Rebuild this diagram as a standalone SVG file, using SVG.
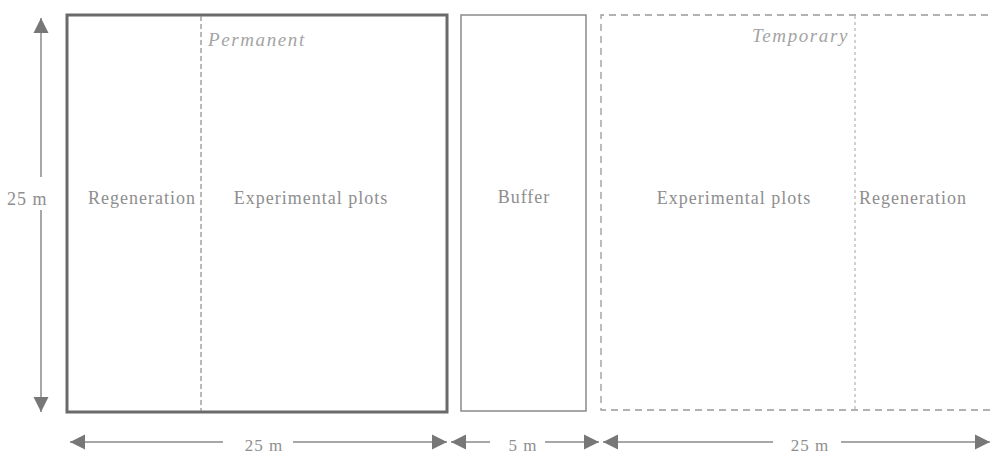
<svg xmlns="http://www.w3.org/2000/svg" width="992" height="457" viewBox="0 0 992 457">
<defs>
<style>
text{font-family:"Liberation Serif","Times New Roman",serif;font-size:18px;letter-spacing:1px;fill:#8e8e8e}
.it{font-style:italic;font-size:19px;letter-spacing:1.6px;fill:#a4a4a4}
.bl{font-size:17px}
.dim{stroke:#8a8a8a;stroke-width:1.5;fill:none}
.head{fill:#777}
</style>
<marker id="ah" viewBox="0 0 10 10" refX="10" refY="5" markerWidth="15" markerHeight="16" markerUnits="userSpaceOnUse" orient="auto-start-reverse">
<path d="M0,0 L10,5 L0,10 Z" class="head"/>
</marker>
</defs>
<rect width="992" height="457" fill="#fff"/>
<g id="permanent">
<rect x="67" y="15" width="380" height="397" fill="none" stroke="#6a6a6a" stroke-width="3"/>
<line x1="201" y1="16" x2="201" y2="411" stroke="#8a8a8a" stroke-width="1.2" stroke-dasharray="5,3"/>
<text class="it" x="208" y="46">Permanent</text>
<text x="142" y="204" text-anchor="middle">Regeneration</text>
<text x="311" y="204" text-anchor="middle">Experimental plots</text>
</g>
<g id="buffer">
<rect x="461" y="15" width="125" height="396" fill="none" stroke="#8a8a8a" stroke-width="1.5"/>
<text x="524" y="203" text-anchor="middle">Buffer</text>
</g>
<g id="temporary">
<path d="M1000,15 H601 V410 H1000" fill="none" stroke="#999" stroke-width="1.3" stroke-dasharray="7,5"/>
<line x1="855" y1="16" x2="855" y2="409" stroke="#b4b4b4" stroke-width="1.2" stroke-dasharray="3,3"/>
<text class="it" x="849" y="42" text-anchor="end">Temporary</text>
<text x="734" y="204" text-anchor="middle">Experimental plots</text>
<text x="913" y="204" text-anchor="middle">Regeneration</text>
</g>
<g id="connectors">
<line class="dim" x1="41" y1="177" x2="41" y2="18" marker-end="url(#ah)"/>
<line class="dim" x1="41" y1="210" x2="41" y2="412" marker-end="url(#ah)"/>
<line class="dim" x1="223" y1="442" x2="70" y2="442" marker-end="url(#ah)"/>
<line class="dim" x1="293" y1="442" x2="447" y2="442" marker-end="url(#ah)"/>
<line class="dim" x1="490" y1="442" x2="451" y2="442" marker-end="url(#ah)"/>
<line class="dim" x1="545" y1="442" x2="599" y2="442" marker-end="url(#ah)"/>
<line class="dim" x1="773" y1="442" x2="603" y2="442" marker-end="url(#ah)"/>
<line class="dim" x1="841" y1="442" x2="990" y2="442" marker-end="url(#ah)"/>
</g>
<g id="labels">
<text x="7" y="205">25 m</text>
<text class="bl" x="264" y="451" text-anchor="middle">25 m</text>
<text class="bl" x="523" y="451" text-anchor="middle">5 m</text>
<text class="bl" x="810" y="451" text-anchor="middle">25 m</text>
</g>
</svg>
